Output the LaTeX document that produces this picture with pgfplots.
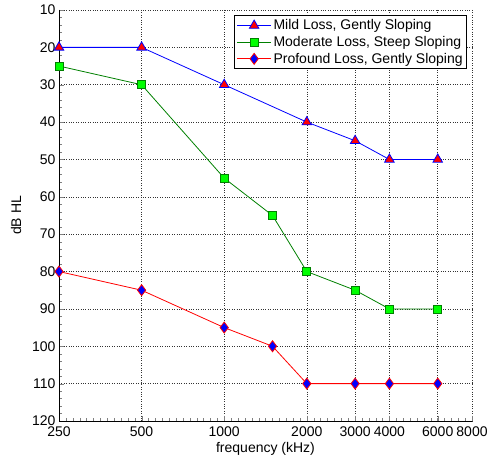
\documentclass[border=0pt]{standalone}
\usepackage{pgfplots}
\pgfplotsset{compat=1.18}
\usepackage{fontspec}
\setmainfont{Liberation Sans}
\definecolor{mgreen}{rgb}{0,0.5,0}
\definecolor{lime}{rgb}{0,1,0}

\begin{document}
\begin{tikzpicture}
\begin{axis}[
    name=ax,
    scale only axis,
    width=413pt, height=411pt,
    xmode=log,
    xmin=250, xmax=8000,
    ymin=10, ymax=120,
    y dir=reverse,
    xtick={250,500,1000,2000,3000,4000,6000,8000},
    xticklabels={250,500,1000,2000,3000,4000,6000,8000},
    % minor ticks every 1/12 octave
    minor xtick={264.9,280.6,297.3,315.0,333.7,353.6,374.6,396.9,420.4,445.4,471.9,
        529.7,561.2,594.6,630.0,667.4,707.1,749.2,793.7,840.9,890.9,943.9,
        1059.5,1122.5,1189.2,1259.9,1334.8,1414.2,1498.3,1587.4,1681.8,1781.8,1887.7,
        2119,2245,2378,2520,2670,2828,2997,3175,3364,3564,3775,
        4238,4490,4757,5040,5339,5657,5993,6350,6727,7127,7551},
    ytick={10,20,...,120},
    minor y tick num=4,
    axis lines=left,
    axis line style={-, line width=0.8pt},
    tick align=inside,
    major tick length=5pt, minor tick length=2.5pt,
    grid=major,
    major grid style={dotted, black!80, line width=0.6pt},
    xlabel={frequency (kHz)},
    ylabel={dB HL},
    font=\fontsize{14}{16}\selectfont,
    /pgf/number format/assume math mode=true,
    xticklabel style={yshift=-2pt},
    xlabel style={yshift=1pt},
    ylabel style={yshift=4pt},
    legend cell align=left,
    legend image code/.code={
        \draw[mark repeat=2, mark phase=2] plot coordinates {(0pt,0pt) (17pt,0pt) (34pt,0pt)};},
    legend style={at={(0.988,0.987)}, anchor=north east, draw=black, line width=0.8pt,
        font=\fontsize{14}{16}\selectfont, row sep=1pt, inner sep=2pt},
]
\addplot[blue, line width=0.8pt, mark=triangle*, mark size=5.5pt, mark options={fill=red, draw=blue, line width=0.8pt}]
  coordinates {(250,20) (500,20) (1000,30) (2000,40) (3000,45) (4000,50) (6000,50)};
\addlegendentry{Mild Loss, Gently Sloping}
\addplot[mgreen, line width=0.8pt, mark=square*, mark size=4pt, mark options={fill=lime, draw=mgreen, line width=0.8pt}]
  coordinates {(250,25) (500,30) (1000,55) (1500,65) (2000,80) (3000,85) (4000,90) (6000,90)};
\addlegendentry{Moderate Loss, Steep Sloping}
\addplot[red, line width=0.8pt, mark=diamond*, mark size=5.5pt, mark options={fill=blue, draw=red, line width=0.8pt}]
  coordinates {(250,80) (500,85) (1000,95) (1500,100) (2000,110) (3000,110) (4000,110) (6000,110)};
\addlegendentry{Profound Loss, Gently Sloping}
\end{axis}
\pgfresetboundingbox
\path (ax.south west) ++(-59pt,-38pt) rectangle (ax.north east);
\path (ax.north east) ++(21pt,10pt) rectangle (ax.south west);
\end{tikzpicture}
\end{document}
